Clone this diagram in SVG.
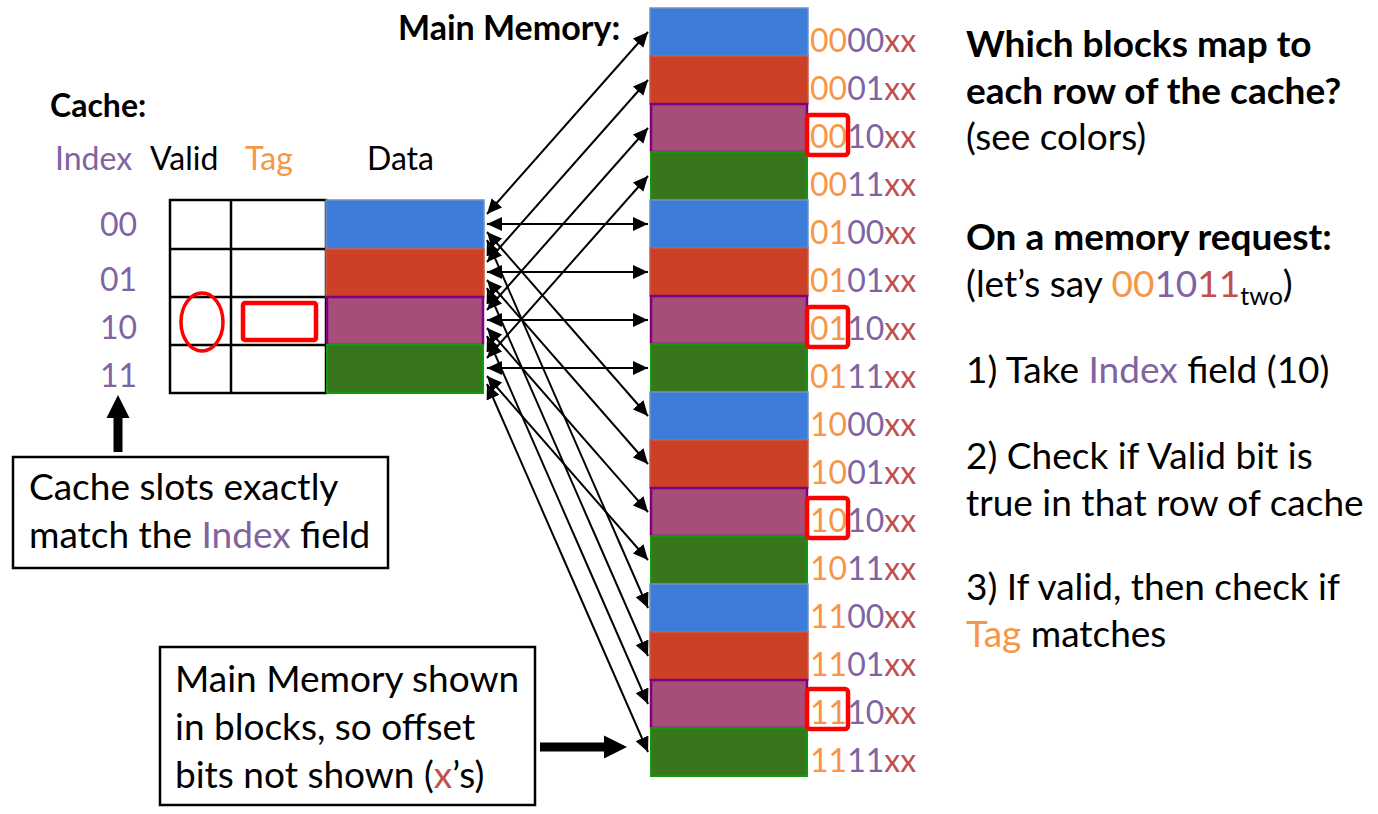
<svg xmlns="http://www.w3.org/2000/svg" width="1378" height="814" viewBox="0 0 1378 814">
<defs>
<style>
text{font-family:Lato,"Liberation Sans",sans-serif;font-size:37px;fill:#000}
.s{font-size:32px}
.b{font-weight:bold}
.idx{fill:#8064A2}
.tag{fill:#F79646}
.off{fill:#C0504D}
.blue{fill:#3D7CD8;stroke:#6F93C8;stroke-width:1.5}
.red{fill:#CC4125;stroke:#C9594A;stroke-width:1.5}
.pur{fill:#A64D79;stroke:#800080;stroke-width:2.5}
.grn{fill:#38761D;stroke:#109A10;stroke-width:2}
.cell{fill:none;stroke:#000;stroke-width:2.5}
.hl{fill:none;stroke:#FF0000;stroke-width:4.5}
.conn{stroke:#000;stroke-width:2;fill:none;marker-start:url(#ah);marker-end:url(#ah)}
.box{fill:#fff;stroke:#000;stroke-width:2.5}
</style>
<marker id="ah" markerUnits="userSpaceOnUse" markerWidth="15" markerHeight="14" refX="15" refY="7" orient="auto-start-reverse" viewBox="0 0 15 14">
<path d="M0,0 L15,7 L0,14 z" fill="#000"/>
</marker>
</defs>
<rect width="1378" height="814" fill="#fff"/>

<g id="cache">
<text x="50" y="117" class="s b">Cache:</text>
<text x="55" y="170" class="s idx">Index</text>
<text x="150" y="170" class="s">Valid</text>
<text x="245" y="170" class="s tag">Tag</text>
<text x="367" y="170" class="s">Data</text>
<text x="137" y="236" class="s idx" text-anchor="end">00</text>
<text x="137" y="291" class="s idx" text-anchor="end">01</text>
<text x="137" y="339" class="s idx" text-anchor="end">10</text>
<text x="137" y="387" class="s idx" text-anchor="end">11</text>
<rect x="170" y="200" width="156" height="193" class="cell"/>
<line x1="231" y1="200" x2="231" y2="393" class="cell"/>
<line x1="170" y1="249" x2="326" y2="249" class="cell"/>
<line x1="170" y1="297" x2="326" y2="297" class="cell"/>
<line x1="170" y1="345" x2="326" y2="345" class="cell"/>
<rect x="326" y="200" width="158" height="49" class="blue"/>
<rect x="326" y="249" width="158" height="48" class="red"/>
<rect x="327" y="297" width="156" height="48" class="pur"/>
<rect x="327" y="345" width="156" height="48" class="grn"/>
<ellipse cx="202" cy="322" rx="21" ry="29" fill="none" stroke="#FF0000" stroke-width="3.5"/>
<rect x="243" y="303" width="73" height="37" rx="2" class="hl"/>
</g>

<g id="memory">
<text x="398" y="40" class="b" style="font-size:34px">Main Memory:</text>
<rect x="650" y="8" width="158" height="48" class="blue"/>
<rect x="650" y="56" width="158" height="48" class="red"/>
<rect x="651" y="104" width="156" height="48" class="pur"/>
<rect x="651" y="152" width="156" height="48" class="grn"/>
<rect x="650" y="200" width="158" height="48" class="blue"/>
<rect x="650" y="248" width="158" height="48" class="red"/>
<rect x="651" y="296" width="156" height="48" class="pur"/>
<rect x="651" y="344" width="156" height="48" class="grn"/>
<rect x="650" y="392" width="158" height="48" class="blue"/>
<rect x="650" y="440" width="158" height="48" class="red"/>
<rect x="651" y="488" width="156" height="48" class="pur"/>
<rect x="651" y="536" width="156" height="48" class="grn"/>
<rect x="650" y="584" width="158" height="48" class="blue"/>
<rect x="650" y="632" width="158" height="48" class="red"/>
<rect x="651" y="680" width="156" height="48" class="pur"/>
<rect x="651" y="728" width="156" height="48" class="grn"/>
<text x="810" y="52" class="s"><tspan class="tag">00</tspan><tspan class="idx">00</tspan><tspan class="off">xx</tspan></text>
<text x="810" y="100" class="s"><tspan class="tag">00</tspan><tspan class="idx">01</tspan><tspan class="off">xx</tspan></text>
<text x="810" y="148" class="s"><tspan class="tag">00</tspan><tspan class="idx">10</tspan><tspan class="off">xx</tspan></text>
<text x="810" y="196" class="s"><tspan class="tag">00</tspan><tspan class="idx">11</tspan><tspan class="off">xx</tspan></text>
<text x="810" y="244" class="s"><tspan class="tag">01</tspan><tspan class="idx">00</tspan><tspan class="off">xx</tspan></text>
<text x="810" y="292" class="s"><tspan class="tag">01</tspan><tspan class="idx">01</tspan><tspan class="off">xx</tspan></text>
<text x="810" y="340" class="s"><tspan class="tag">01</tspan><tspan class="idx">10</tspan><tspan class="off">xx</tspan></text>
<text x="810" y="388" class="s"><tspan class="tag">01</tspan><tspan class="idx">11</tspan><tspan class="off">xx</tspan></text>
<text x="810" y="436" class="s"><tspan class="tag">10</tspan><tspan class="idx">00</tspan><tspan class="off">xx</tspan></text>
<text x="810" y="484" class="s"><tspan class="tag">10</tspan><tspan class="idx">01</tspan><tspan class="off">xx</tspan></text>
<text x="810" y="532" class="s"><tspan class="tag">10</tspan><tspan class="idx">10</tspan><tspan class="off">xx</tspan></text>
<text x="810" y="580" class="s"><tspan class="tag">10</tspan><tspan class="idx">11</tspan><tspan class="off">xx</tspan></text>
<text x="810" y="628" class="s"><tspan class="tag">11</tspan><tspan class="idx">00</tspan><tspan class="off">xx</tspan></text>
<text x="810" y="676" class="s"><tspan class="tag">11</tspan><tspan class="idx">01</tspan><tspan class="off">xx</tspan></text>
<text x="810" y="724" class="s"><tspan class="tag">11</tspan><tspan class="idx">10</tspan><tspan class="off">xx</tspan></text>
<text x="810" y="772" class="s"><tspan class="tag">11</tspan><tspan class="idx">11</tspan><tspan class="off">xx</tspan></text>
<rect x="807" y="115" width="41" height="40" rx="3" class="hl"/>
<rect x="807" y="307" width="41" height="40" rx="3" class="hl"/>
<rect x="807" y="498" width="41" height="40" rx="3" class="hl"/>
<rect x="807" y="689" width="41" height="40" rx="3" class="hl"/>
</g>

<g id="note-cache">
<rect x="13" y="457" width="375" height="111" class="box"/>
<text x="29" y="500">Cache slots exactly</text>
<text x="29" y="548">match the <tspan class="idx">Index</tspan> field</text>
</g>

<g id="note-memory">
<rect x="160" y="647" width="375" height="158" class="box"/>
<text x="175" y="692">Main Memory shown</text>
<text x="175" y="740">in blocks, so offset</text>
<text x="175" y="788">bits not shown (<tspan class="off">x</tspan>’s)</text>
</g>

<g id="explain">
<text x="966" y="57" class="b">Which blocks map to</text>
<text x="966" y="104" class="b">each row of the cache?</text>
<text x="966" y="150">(see colors)</text>
<text x="966" y="250" class="b">On a memory request:</text>
<text x="966" y="297">(let’s say <tspan class="tag">00</tspan><tspan class="idx">10</tspan><tspan class="off">11</tspan><tspan font-size="25" dy="8">two</tspan><tspan dy="-8">)</tspan></text>
<text x="966" y="383">1) Take <tspan class="idx">Index</tspan> field (10)</text>
<text x="966" y="469">2) Check if Valid bit is</text>
<text x="966" y="516">true in that row of cache</text>
<text x="966" y="600">3) If valid, then check if</text>
<text x="966" y="647"><tspan class="tag">Tag</tspan> matches</text>
</g>

<g id="connectors">
<line x1="487" y1="214" x2="648" y2="32" class="conn"/>
<line x1="487" y1="262" x2="648" y2="80" class="conn"/>
<line x1="487" y1="310" x2="648" y2="128" class="conn"/>
<line x1="487" y1="358" x2="648" y2="176" class="conn"/>
<line x1="487" y1="224" x2="648" y2="224" class="conn"/>
<line x1="487" y1="272" x2="648" y2="272" class="conn"/>
<line x1="487" y1="320" x2="648" y2="320" class="conn"/>
<line x1="487" y1="368" x2="648" y2="368" class="conn"/>
<line x1="487" y1="232" x2="648" y2="416" class="conn"/>
<line x1="487" y1="280" x2="648" y2="464" class="conn"/>
<line x1="487" y1="328" x2="648" y2="512" class="conn"/>
<line x1="487" y1="376" x2="648" y2="560" class="conn"/>
<line x1="487" y1="240" x2="648" y2="608" class="conn"/>
<line x1="487" y1="288" x2="648" y2="656" class="conn"/>
<line x1="487" y1="336" x2="648" y2="704" class="conn"/>
<line x1="487" y1="384" x2="648" y2="752" class="conn"/>
<polygon points="118,395 129.5,418 122.5,418 122.5,452 113.5,452 113.5,418 106.5,418" fill="#000"/>
<polygon points="627,747 604,735.5 604,742.5 540,742.5 540,751.5 604,751.5 604,758.5" fill="#000"/>
</g>
</svg>
